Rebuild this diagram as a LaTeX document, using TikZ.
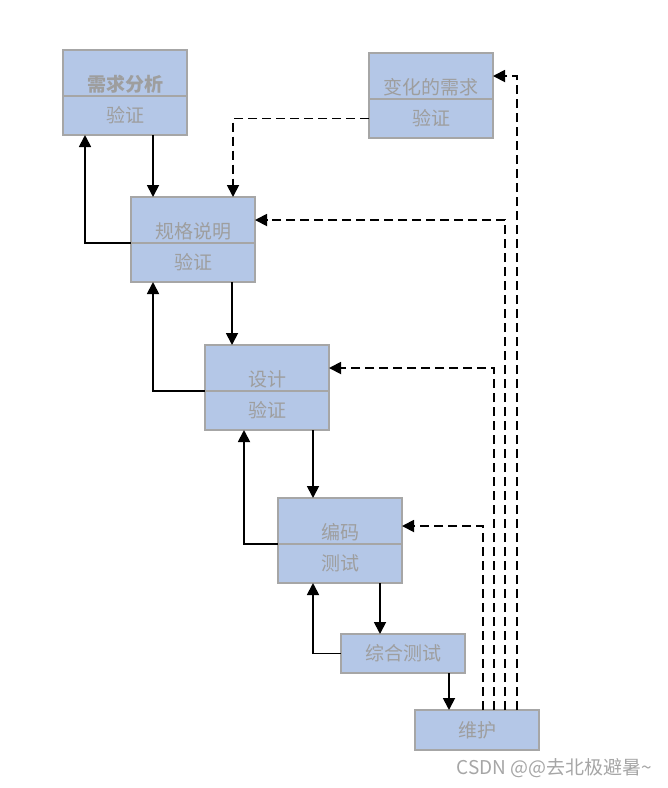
\documentclass[tikz,border=0pt]{standalone}
\usepackage{fontspec}
\setmainfont{Noto Sans CJK SC}
\usepackage{xcolor}
\usetikzlibrary{arrows.meta,positioning}
\definecolor{boxfill}{RGB}{180,199,231}
\definecolor{boxline}{RGB}{166,166,166}
\definecolor{boxtext}{RGB}{158,158,158}
\begin{document}
\begin{tikzpicture}[x=1pt, y=-1pt, every node/.style={font=\fontsize{19}{21}\selectfont},
  box/.style={draw=boxline, fill=boxfill, line width=1.3pt, text=boxtext, minimum width=124pt, inner sep=0pt, outer sep=0pt, anchor=north west},
  upper/.style={box, minimum height=46pt, text height=36pt, text depth=0pt},
  lower/.style={box, minimum height=39pt, below=0pt of #1},
  arr/.style={-{Triangle[length=12pt,width=12pt]}, line width=1.8pt},
  dsh/.style={arr, dash pattern=on 9pt off 5pt}]
\useasboundingbox (0,0) rectangle (668,788);
\node[upper, font=\fontsize{19}{21}\selectfont\bfseries] (req) at (63,50) {需求分析};
\node[lower=req] (reqv) {验证};
\node[upper] (chg) at (369,53) {变化的需求};
\node[lower=chg] (chgv) {验证};
\node[upper] (spec) at (131,197) {规格说明};
\node[lower=spec] (specv) {验证};
\node[upper] (dsg) at (205,345) {设计};
\node[lower=dsg] (dsgv) {验证};
\node[upper] (code) at (278,498) {编码};
\node[lower=code] (codev) {测试};
\node[box, minimum height=39pt] (integ) at (341,634) {综合测试};
\node[box, minimum height=40pt] (maint) at (415,710) {维护};
\node[anchor=west, text=boxline, font=\fontsize{19}{21}\selectfont] (mark) at (453,768) {CSDN @@去北极避暑\textasciitilde};
% forward flow
\draw[arr] ([xshift=90pt]reqv.south west) -- ([xshift=22pt]spec.north west);
\draw[arr] ([xshift=101pt]specv.south west) -- ([xshift=27pt]dsg.north west);
\draw[arr] ([xshift=108pt]dsgv.south west) -- ([xshift=35pt]code.north west);
\draw[arr] ([xshift=102pt]codev.south west) -- ([xshift=39pt]integ.north west);
\draw[arr] ([xshift=108pt]integ.south west) -- ([xshift=34pt]maint.north west);
% verification back
\draw[arr] (spec.south west) -| ([xshift=22pt]reqv.south west);
\draw[arr] (dsg.south west) -| ([xshift=22pt]specv.south west);
\draw[arr] (code.south west) -| ([xshift=39pt]dsgv.south west);
\draw[arr] (integ.west) -| ([xshift=35pt]codev.south west);
% changes
\draw[dsh] (chgv.west) -| ([xshift=102pt]spec.north west);
\draw[dsh] ([xshift=102pt]maint.north west) |- (chg.east);
\draw[dsh] ([xshift=90pt]maint.north west) |- (spec.east);
\draw[dsh] ([xshift=79pt]maint.north west) |- (dsg.east);
\draw[dsh] ([xshift=68pt]maint.north west) |- ([yshift=-5pt]code.east);
\end{tikzpicture}
\end{document}
